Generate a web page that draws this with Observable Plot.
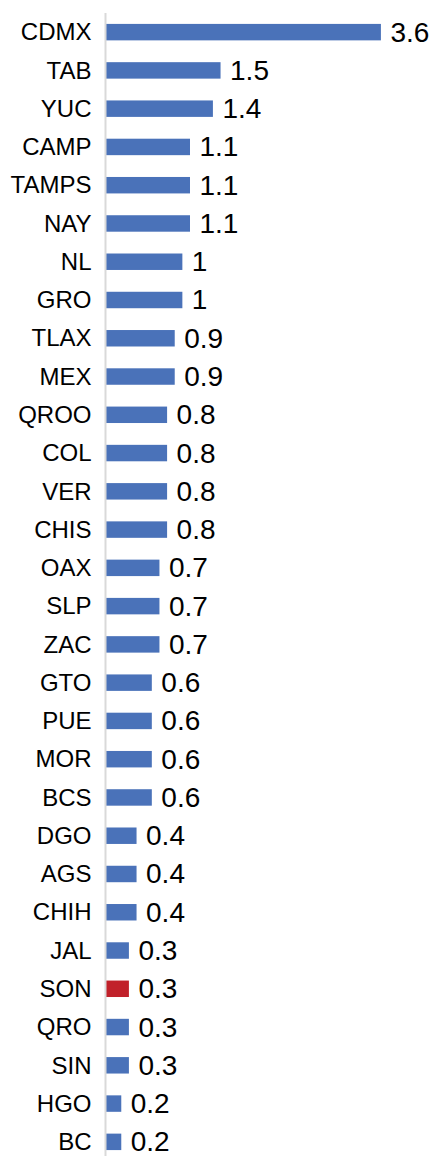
<!DOCTYPE html>
<html>
<head>
<meta charset="utf-8">
<script src="https://cdn.jsdelivr.net/npm/d3@7"></script>
<script src="https://cdn.jsdelivr.net/npm/@observablehq/plot@0.6"></script>
<style>
  html, body { margin: 0; padding: 0; background: #fff; }
</style>
</head>
<body>
<div id="chart"></div>
<script>
const categories = ["CDMX","TAB","YUC","CAMP","TAMPS","NAY","NL","GRO","TLAX","MEX","QROO","COL","VER","CHIS","OAX","SLP","ZAC","GTO","PUE","MOR","BCS","DGO","AGS","CHIH","JAL","SON","QRO","SIN","HGO","BC"];
const values = [3.6,1.5,1.4,1.1,1.1,1.1,1,1,0.9,0.9,0.8,0.8,0.8,0.8,0.7,0.7,0.7,0.6,0.6,0.6,0.6,0.4,0.4,0.4,0.3,0.3,0.3,0.3,0.2,0.2];
const highlighted = ["SON"];
const blue = "#4a72b9";
const red = "#c1212a";

const data = categories.map((c, i) => ({cat: c, value: values[i]}));

const chart = Plot.plot({
  width: 442,
  height: 1156,
  marginLeft: 106,
  marginRight: 0,
  marginTop: 13,
  marginBottom: 0,
  style: {fontFamily: "'Liberation Sans', Arial, Helvetica, sans-serif", background: "#fff", color: "#000"},
  x: {domain: [0, 4.4], axis: null},
  y: {domain: categories, paddingInner: 0.57, paddingOuter: 0.22, align: 0.648, round: false, axis: null},
  color: {type: "identity"},
  marks: [
    Plot.barX(data, {x: "value", y: "cat", fill: d => highlighted.includes(d.cat) ? red : blue}),
    Plot.ruleX([0], {stroke: "#d9d9d9", strokeWidth: 2, dx: -1}),
    Plot.text(data, {x: 0, y: "cat", text: "cat", textAnchor: "end", dx: -15, fontSize: 24, fill: "#000"}),
    Plot.text(data, {x: "value", y: "cat", text: d => String(d.value), textAnchor: "start", dx: 9, fontSize: 28, fill: "#000"})
  ]
});
document.getElementById("chart").appendChild(chart);
</script>
</body>
</html>
